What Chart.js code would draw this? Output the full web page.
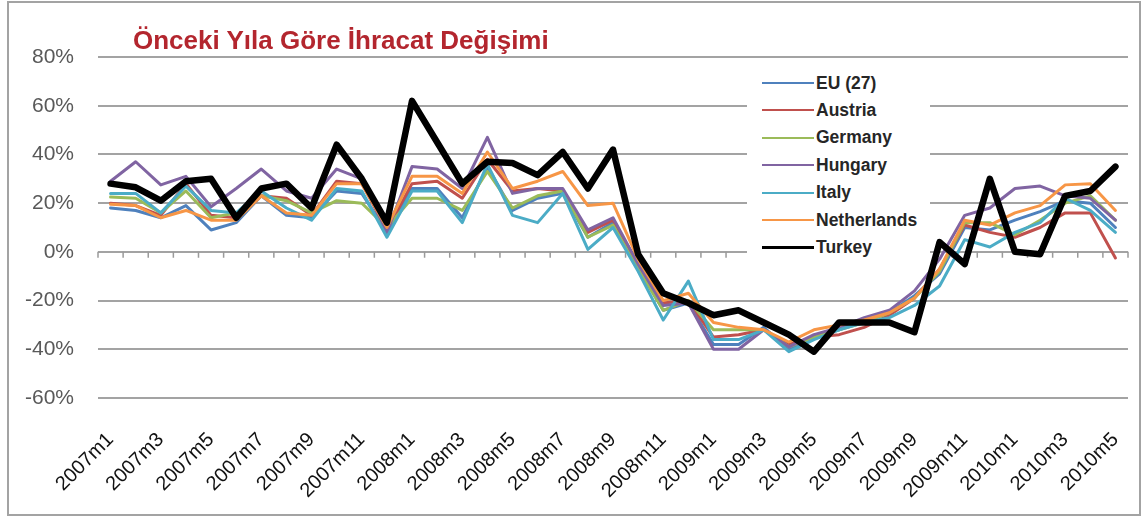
<!DOCTYPE html>
<html lang="tr">
<head>
<meta charset="utf-8">
<title>Önceki Yıla Göre İhracat Değişimi</title>
<script src="https://cdn.jsdelivr.net/npm/chart.js@4.4.1/dist/chart.umd.min.js"></script>
<style>
  html, body { margin: 0; padding: 0; background: #fff; }
  #wrap { position: relative; width: 1143px; height: 517px; overflow: hidden; }
  #frame { position: absolute; left: 7px; top: 1px; width: 1134px; height: 515px; box-sizing: border-box;
           border: 2px solid #a3a3a3; pointer-events: none; }
  #title { position: absolute; left: 133px; top: 25px; font: bold 26px "Liberation Sans", Arial, sans-serif;
           color: #B3262E; white-space: nowrap; }
  #legend { position: absolute; left: 747px; top: 68px; width: 183px; height: 196px; background: #fff; }
  .lg-row { position: absolute; left: 15px; height: 22px; display: flex; align-items: center; }
  .lg-line { width: 52px; margin-right: 2px; }
  .lg-text { font: bold 17.5px "Liberation Sans", Arial, sans-serif; color: #262626; }
</style>
</head>
<body>
<div id="wrap">
  <canvas id="chart" width="1143" height="517"></canvas>
  <div id="title">Önceki Yıla Göre İhracat Değişimi</div>
  <div id="legend"></div>
  <div id="frame"></div>
</div>
<script>
// ─── veriler (yüzde, önceki yılın aynı ayına göre) ───────────────────
const months = [
  '2007m1', '2007m2', '2007m3', '2007m4', '2007m5', '2007m6', '2007m7', '2007m8', '2007m9', '2007m10', '2007m11', '2007m12',
  '2008m1', '2008m2', '2008m3', '2008m4', '2008m5', '2008m6', '2008m7', '2008m8', '2008m9', '2008m10', '2008m11', '2008m12',
  '2009m1', '2009m2', '2009m3', '2009m4', '2009m5', '2009m6', '2009m7', '2009m8', '2009m9', '2009m10', '2009m11', '2009m12',
  '2010m1', '2010m2', '2010m3', '2010m4', '2010m5',
];

const eu27 = [18, 17, 14, 19, 9, 12, 23, 15, 14, 25, 24, 8, 26, 26, 14, 35, 17, 22, 24, 6, 12, -6, -24, -21,
  -38, -38, -31, -40, -35, -32, -28, -25, -18, -9, 10, 9, 13, 16.5, 21, 20, 10];
const austria = [20, 19, 15, 28, 15, 14, 23, 22, 15, 29, 28, 9, 28, 29, 22, 38, 25, 26, 25, 8, 13, -5, -21, -20,
  -35, -34, -32, -38, -35, -34, -31, -26, -19, -7, 11, 8, 6, 10, 16, 16, -2.5];
const germany = [22.5, 22, 16, 25, 14, 16, 23, 21, 16, 21, 20, 10, 22, 22, 17, 33, 18, 23, 25, 6, 11, -7, -24, -20,
  -32, -32, -32, -39, -35, -32, -29, -25, -19, -8, 12, 12, 7, 13, 20, 23, 13];
const hungary = [29, 37, 27.5, 31, 18.5, 26, 34, 25, 22, 34, 30, 8, 35, 34, 26, 47, 24, 26, 26, 9, 14, -5, -22, -21,
  -40, -40, -32, -39, -34, -31, -27, -24, -16, -3, 15, 18, 26, 27, 23, 22, 13];
const italy = [24, 24, 16, 27, 17, 16, 25, 18, 13, 26, 25, 6, 25, 25, 12, 36, 15, 12, 24, 1, 10, -8, -28, -12,
  -36, -36, -32, -41, -36, -32, -29, -27, -22, -14, 5, 2, 8, 12, 22, 17, 8];
const netherlands = [19.5, 19, 14, 17, 13, 13, 23, 16, 15, 28, 28, 10, 31, 31, 24, 41, 26, 29, 33, 19, 20, -3, -20, -17,
  -29, -31, -32, -37, -32, -30, -28, -25, -19, -7, 13, 11, 16, 19, 27.5, 28, 17];
const turkey = [28, 26.5, 21, 29, 30, 14, 26, 28, 18, 44, 30, 12, 62, 45, 28, 37, 36.5, 31.5, 41, 26, 42, -1, -17, -21,
  -26, -24, -29, -34, -41, -29, -29, -29, -33, 4, -5, 30, 0, -1, 23, 25, 35];

const yTicks = [-60, -40, -20, 0, 20, 40, 60, 80];

const series = [
  { name: 'EU (27)', data: eu27, color: '#4F81BD', width: 3 },
  { name: 'Austria', data: austria, color: '#C0504D', width: 3 },
  { name: 'Germany', data: germany, color: '#9BBB59', width: 3 },
  { name: 'Hungary', data: hungary, color: '#8064A2', width: 3 },
  { name: 'Italy', data: italy, color: '#4BACC6', width: 3 },
  { name: 'Netherlands', data: netherlands, color: '#F79646', width: 3 },
  { name: 'Turkey', data: turkey, color: '#000000', width: 6.5 },
];

// ─── sıfır çizgisi üzerindeki kategori çentikleri ────────────────────
const zeroTicks = {
  id: 'zeroTicks',
  beforeDatasetsDraw(chart) {
    const { ctx, scales: { x, y } } = chart;
    const y0 = y.getPixelForValue(0);
    const half = (x.getPixelForValue(1) - x.getPixelForValue(0)) / 2;
    ctx.save();
    ctx.strokeStyle = '#9a9a9a';
    ctx.lineWidth = 1.5;
    ctx.beginPath();
    for (let i = 0; i <= months.length; i++) {
      const px = x.getPixelForValue(0) - half + i * half * 2;
      ctx.moveTo(px, y0);
      ctx.lineTo(px, y0 + 6);
    }
    ctx.stroke();
    ctx.restore();
  },
};

new Chart(document.getElementById('chart'), {
  type: 'line',
  data: {
    labels: months,
    datasets: series.map((s, i) => ({
      label: s.name, data: s.data, borderColor: s.color, backgroundColor: s.color,
      borderWidth: s.width, pointRadius: 0, tension: 0, order: series.length - i,
      borderJoinStyle: 'round', borderCapStyle: 'round',
    })),
  },
  options: {
    responsive: false, animation: false,
    layout: { padding: { left: 0, right: 15, top: 57, bottom: 0 } },
    plugins: { legend: { display: false }, tooltip: { enabled: false } },
    scales: {
      x: {
        offset: true,
        grid: { display: false },
        border: { display: false },
        afterFit: s => { s.height = 119; s.paddingLeft = 0; s.paddingRight = 0; },
        ticks: {
          autoSkip: false, minRotation: 45, maxRotation: 45, padding: 22,
          color: '#111', font: { family: 'Liberation Sans', size: 20 },
          callback: (v, i) => (i % 2 === 0 ? months[i] : ''),
        },
      },
      y: {
        min: -60, max: 80,
        afterFit: s => { s.width = 98; },
        afterBuildTicks: s => { s.ticks = yTicks.map(v => ({ value: v })); },
        grid: { color: '#a3a3a3', lineWidth: 2, drawTicks: false },
        border: { display: false },
        ticks: {
          padding: 24, color: '#595959', font: { family: 'Liberation Sans', size: 21 },
          callback: v => v + '%',
        },
      },
    },
  },
  plugins: [zeroTicks],
});

// ─── lejant ──────────────────────────────────────────────────────────
const legendEl = document.getElementById('legend');
legendEl.innerHTML = series.map((s, i) => `
  <div class="lg-row" style="top:${4 + i * 27.4}px">
    <div class="lg-line" style="height:${s.width > 4 ? 3 : 2}px;background:${s.color}"></div>
    <div class="lg-text">${s.name}</div>
  </div>`).join('');
</script>
</body>
</html>
